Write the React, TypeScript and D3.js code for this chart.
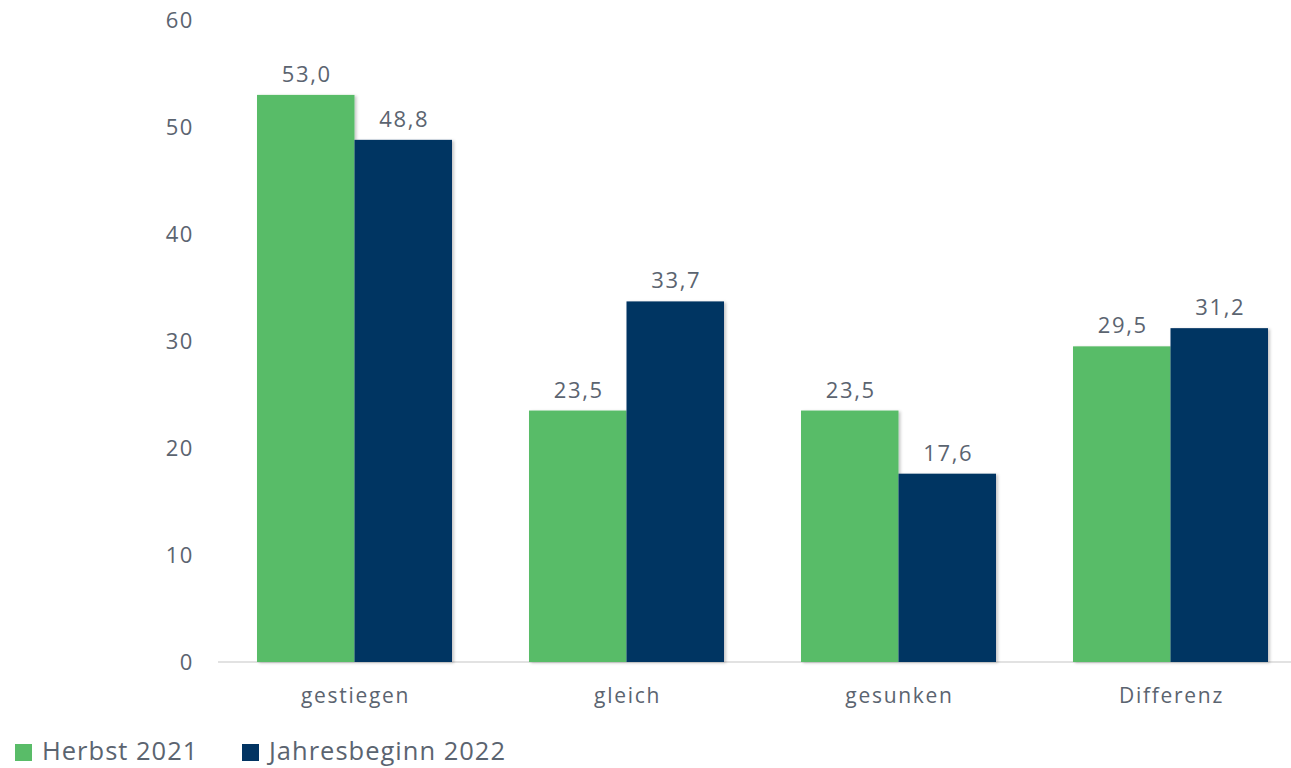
import React from "react";
import * as d3 from "d3";

const categories = ["gestiegen", "gleich", "gesunken", "Differenz"];
const seriesNames = ["Herbst 2021", "Jahresbeginn 2022"];
const herbst2021 = [53.0, 23.5, 23.5, 29.5];
const jahresbeginn2022 = [48.8, 33.7, 17.6, 31.2];
const yTicks = [0, 10, 20, 30, 40, 50, 60];
const colors = ["#59BC68", "#023462"];

const W = 1291;
const H = 768;
const FONT = "'Open Sans', sans-serif";
const TEXT = "#5B6470";

export default function App() {
  const x = d3.scaleBand<string>().domain(categories).range([218.5, 218.5 + 272 * 4]).paddingInner(0).paddingOuter(0);
  const inner = d3.scaleBand<string>().domain(seriesNames).range([0, x.bandwidth()]).paddingInner(0).paddingOuter(0.395);
  const y = d3.scaleLinear().domain([0, 60]).range([662, 20]);
  const series = [herbst2021, jahresbeginn2022];
  const fmt = (v: number) => v.toFixed(1).replace(".", ",");

  return (
    <svg width={W} height={H} style={{ position: "absolute", left: 0, top: 0, background: "#fff" }} fontFamily={FONT}>
      <defs>
        <filter id="sh" x="-10%" y="-10%" width="130%" height="130%">
          <feDropShadow dx="2" dy="1" stdDeviation="1.5" floodColor="#000" floodOpacity="0.22" />
        </filter>
      </defs>
      {yTicks.map((t) => (
        <text key={t} x={194} y={y(t) + 8} textAnchor="end" fontSize={22} letterSpacing={1.6} fill={TEXT}>
          {t}
        </text>
      ))}
      <line x1={218} x2={W} y1={y(0)} y2={y(0)} stroke="#D9D9D9" strokeWidth={1.5} />
      {categories.map((c, ci) => (
        <g key={c} transform={`translate(${x(c)},0)`}>
          {series.map((vals, si) => {
            const bx = inner(seriesNames[si])!;
            const bw = inner.bandwidth();
            const v = vals[ci];
            return (
              <g key={si}>
                <rect x={bx} y={y(v)} width={bw} height={y(0) - y(v)} fill={colors[si]} filter="url(#sh)" />
                <text x={bx + bw / 2 + 1} y={y(v) - 13} textAnchor="middle" fontSize={22} letterSpacing={1.6} fill={TEXT}>
                  {fmt(v)}
                </text>
              </g>
            );
          })}
          <text x={x.bandwidth() / 2 + 1} y={703} textAnchor="middle" fontSize={21} letterSpacing={1.7} fill={TEXT}>
            {c}
          </text>
        </g>
      ))}
      {seriesNames.map((s, i) => {
        const lx = [15, 242][i];
        return (
          <g key={s}>
            <rect x={lx} y={744} width={17} height={17} fill={colors[i]} />
            <text x={lx + 27} y={760} fontSize={25.5} letterSpacing={1} fill={TEXT}>
              {s}
            </text>
          </g>
        );
      })}
    </svg>
  );
}
